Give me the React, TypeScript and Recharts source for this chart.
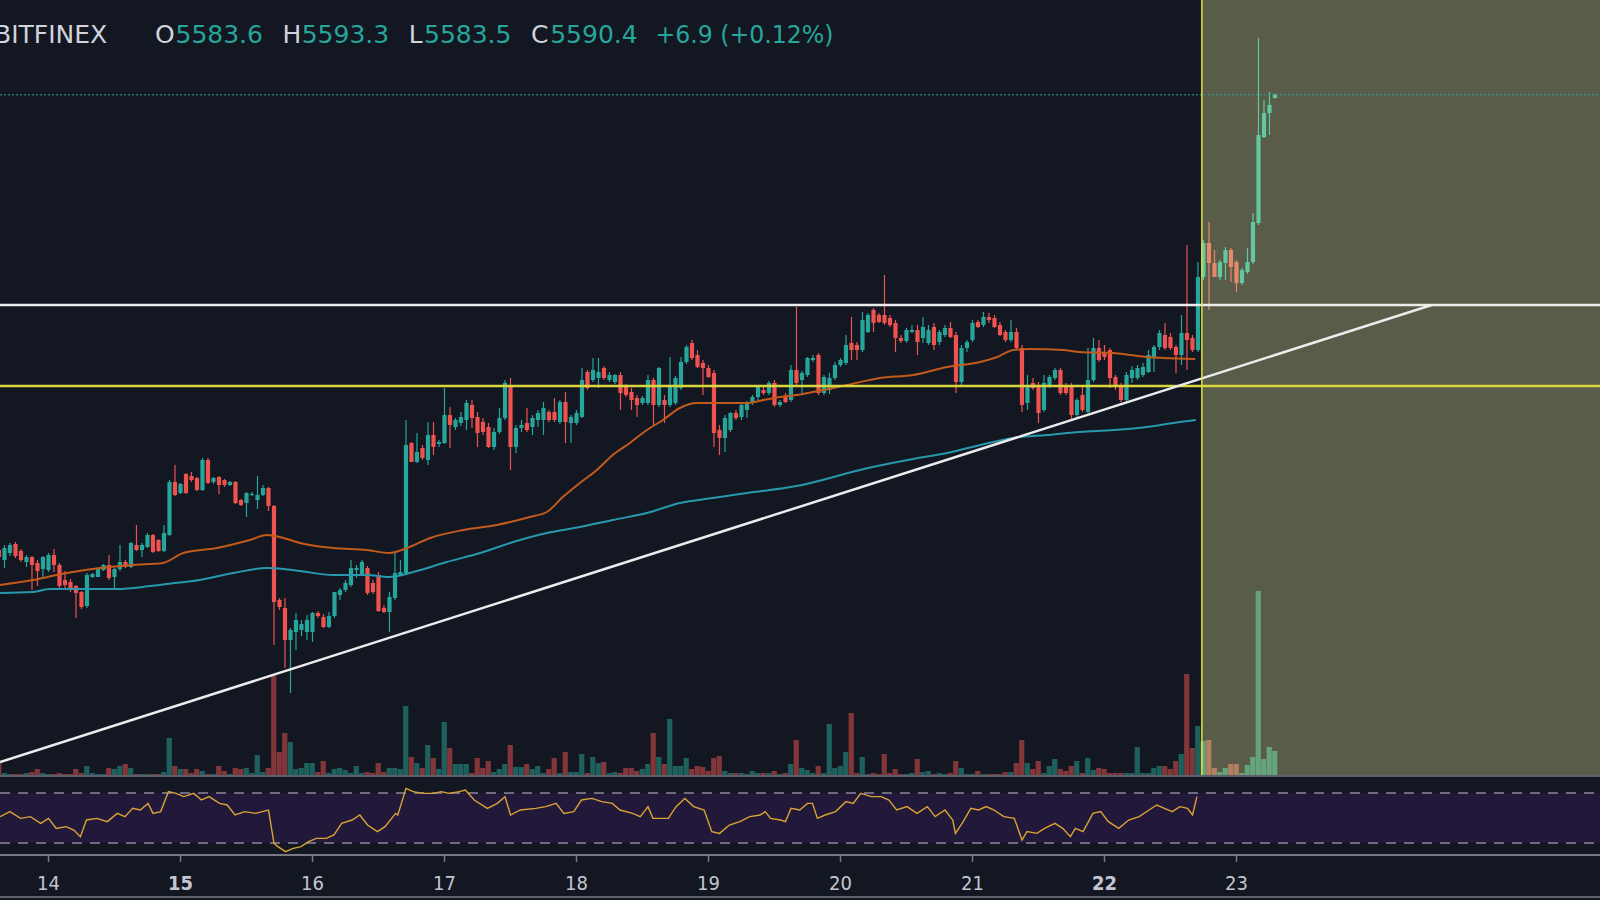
import React from 'react'
import {
  ComposedChart,
  Bar,
  Line,
  XAxis,
  YAxis,
  ReferenceLine,
  ReferenceArea,
} from 'recharts'

// hourly candles, hour 0 = the 14th at 00:00
const FIRST_HOUR = -9

const OPENS = [
  4680, 4660, 4674, 4692, 4678, 4656, 4666, 4654, 4642, 4640, 4670, 4650,
  4620, 4616, 4608, 4596, 4568, 4626, 4626, 4640, 4650, 4626, 4642, 4656,
  4646, 4690, 4680, 4686, 4710, 4700, 4678, 4710, 4816, 4794, 4832, 4828,
  4824, 4800, 4860, 4816, 4826, 4820, 4810, 4816, 4780, 4774, 4790, 4780,
  4790, 4804, 4768, 4580, 4564, 4500, 4516, 4520, 4516, 4516, 4554, 4546,
  4526, 4548, 4590, 4600, 4610, 4640, 4630, 4644, 4614, 4630, 4564, 4556,
  4584, 4630, 4634, 4894, 4856, 4884, 4860, 4910, 4892, 4894, 4950, 4926,
  4934, 4940, 4970, 4946, 4936, 4926, 4886, 4916, 4944, 5010, 4886, 4924,
  4934, 4926, 4940, 4940, 4956, 4956, 4936, 4976, 4934, 4934, 4946, 5036,
  5020, 5024, 5044, 5020, 5016, 5030, 5006, 4996, 4984, 4974, 4974, 5020,
  4970, 4980, 4970, 4974, 5004, 5056, 5094, 5070, 5054, 5044, 5034, 4920,
  4904, 4920, 4954, 4946, 4960, 4974, 4986, 5000, 4994, 5014, 4970, 4986,
  4980, 5040, 5020, 5030, 5060, 5070, 4994, 5000, 5024, 5050, 5054, 5094,
  5090, 5080, 5116, 5160, 5150, 5150, 5144, 5134, 5104, 5098, 5116, 5120,
  5104, 5094, 5126, 5096, 5110, 5124, 5110, 5016, 5084, 5100, 5136, 5130,
  5146, 5144, 5130, 5116, 5100, 5116, 5084, 4974, 5014, 5010, 4960, 5010,
  5024, 5040, 5010, 5008, 4950, 4990, 4956, 5020, 5084, 5076, 5080, 5026,
  5006, 4980, 5024, 5024, 5030, 5036, 5066, 5086, 5110, 5106, 5086, 5070,
  5114, 5104, 5080, 5226, 5294, 5254, 5226, 5254, 5280, 5256, 5214, 5236,
  5256, 5334, 5506, 5554, 5583.6,
]

const HIGHS = [
  4684, 4690, 4694, 4696, 4682, 4670, 4668, 4660, 4668, 4674, 4682, 4654,
  4638, 4622, 4610, 4598, 4634, 4634, 4644, 4652, 4670, 4644, 4690, 4660,
  4696, 4730, 4694, 4714, 4712, 4702, 4730, 4820, 4850, 4814, 4834, 4836,
  4826, 4864, 4864, 4826, 4828, 4822, 4818, 4818, 4782, 4796, 4796, 4828,
  4810, 4806, 4770, 4584, 4584, 4524, 4554, 4540, 4550, 4556, 4558, 4552,
  4556, 4596, 4604, 4620, 4660, 4650, 4660, 4648, 4620, 4636, 4570, 4596,
  4676, 4660, 4940, 4896, 4914, 4890, 4936, 4936, 4900, 5004, 4966, 4944,
  4956, 4980, 4980, 4956, 4944, 4934, 4924, 4964, 5020, 5024, 4930, 4940,
  4964, 4950, 4960, 4976, 4960, 4984, 4980, 4996, 4950, 4960, 5044, 5040,
  5064, 5064, 5048, 5036, 5032, 5036, 5012, 5004, 4990, 4988, 5030, 5024,
  5046, 4990, 5066, 5028, 5066, 5090, 5100, 5080, 5060, 5050, 5040, 4930,
  4950, 4956, 4960, 4974, 4978, 4990, 5010, 5010, 5018, 5020, 4980, 4994,
  5050, 5166, 5038, 5066, 5070, 5074, 5030, 5034, 5056, 5064, 5110, 5146,
  5096, 5156, 5154, 5164, 5154, 5230, 5150, 5140, 5110, 5124, 5130, 5130,
  5146, 5130, 5134, 5120, 5130, 5136, 5116, 5090, 5100, 5140, 5140, 5156,
  5154, 5150, 5136, 5120, 5140, 5124, 5090, 5030, 5024, 5016, 5030, 5030,
  5044, 5044, 5014, 5014, 4984, 5006, 5084, 5104, 5100, 5090, 5084, 5030,
  5014, 5036, 5048, 5050, 5054, 5080, 5090, 5120, 5134, 5114, 5090, 5150,
  5290, 5110, 5256, 5300, 5336, 5280, 5260, 5286, 5284, 5260, 5244, 5284,
  5354, 5704, 5580, 5596, 5593.3,
]

const LOWS = [
  4660, 4644, 4668, 4664, 4656, 4646, 4600, 4608, 4626, 4636, 4636, 4604,
  4604, 4596, 4544, 4562, 4564, 4624, 4626, 4638, 4620, 4604, 4638, 4644,
  4644, 4678, 4666, 4684, 4674, 4676, 4676, 4708, 4788, 4792, 4792, 4816,
  4798, 4798, 4812, 4812, 4792, 4806, 4808, 4772, 4768, 4746, 4788, 4762,
  4788, 4758, 4490, 4560, 4444, 4394, 4480, 4508, 4500, 4496, 4544, 4524,
  4524, 4544, 4580, 4596, 4606, 4624, 4628, 4590, 4592, 4556, 4554, 4516,
  4580, 4628, 4630, 4856, 4854, 4860, 4850, 4870, 4886, 4892, 4884, 4920,
  4928, 4920, 4924, 4886, 4910, 4884, 4880, 4912, 4940, 4840, 4874, 4916,
  4916, 4910, 4926, 4910, 4936, 4936, 4932, 4894, 4894, 4930, 4944, 5000,
  5016, 5004, 5020, 5016, 5012, 4960, 4986, 4960, 4946, 4970, 4970, 4930,
  4966, 4934, 4966, 4970, 5000, 5052, 5060, 5044, 4990, 5024, 4886, 4870,
  4876, 4916, 4940, 4940, 4944, 4970, 4980, 4990, 4990, 4966, 4966, 4974,
  4976, 5010, 4994, 5026, 5056, 4990, 4990, 4992, 5020, 5046, 5050, 5060,
  5060, 5076, 5114, 5116, 5134, 5130, 5126, 5076, 5094, 5094, 5114, 5070,
  5094, 5090, 5080, 5090, 5106, 5104, 4994, 5010, 5076, 5096, 5124, 5126,
  5134, 5124, 5108, 5096, 5096, 5080, 4956, 4960, 5000, 4934, 4956, 5004,
  5020, 4990, 4990, 4940, 4946, 4956, 4954, 5016, 5056, 5060, 5004, 5000,
  4976, 4976, 5014, 5020, 5026, 5034, 5036, 5080, 5080, 5080, 5034, 5050,
  5040, 5076, 5076, 5220, 5160, 5226, 5220, 5220, 5216, 5196, 5210, 5232,
  5252, 5330, 5504, 5510, 5583.5,
]

const CLOSES = [
  4666, 4684, 4690, 4668, 4660, 4666, 4650, 4638, 4666, 4670, 4650, 4608,
  4610, 4604, 4594, 4566, 4630, 4632, 4644, 4650, 4624, 4642, 4656, 4646,
  4694, 4680, 4690, 4710, 4676, 4678, 4714, 4816, 4790, 4812, 4794, 4820,
  4800, 4860, 4814, 4824, 4810, 4810, 4816, 4774, 4770, 4794, 4792, 4790,
  4804, 4768, 4576, 4566, 4500, 4520, 4540, 4532, 4540, 4554, 4548, 4526,
  4548, 4596, 4600, 4614, 4644, 4644, 4656, 4594, 4596, 4558, 4556, 4586,
  4634, 4636, 4890, 4856, 4876, 4864, 4910, 4886, 4896, 4950, 4930, 4940,
  4946, 4974, 4944, 4914, 4916, 4886, 4916, 4944, 5014, 4886, 4924, 4930,
  4920, 4944, 4954, 4964, 4940, 4940, 4976, 4936, 4946, 4954, 5020, 5004,
  5040, 5036, 5024, 5030, 5030, 4994, 4990, 4980, 4970, 4984, 5020, 4970,
  5044, 4970, 5010, 5024, 5056, 5086, 5064, 5046, 5044, 5026, 4914, 4904,
  4944, 4954, 4944, 4970, 4974, 4986, 5006, 4994, 5014, 4970, 4976, 4976,
  5040, 5014, 5034, 5064, 5064, 4994, 5026, 5024, 5050, 5060, 5090, 5080,
  5080, 5140, 5150, 5134, 5136, 5134, 5130, 5104, 5098, 5120, 5120, 5096,
  5126, 5120, 5090, 5116, 5124, 5106, 5016, 5084, 5096, 5134, 5126, 5146,
  5140, 5126, 5110, 5100, 5116, 5084, 4970, 5010, 5004, 4954, 5014, 5026,
  5040, 4994, 4994, 4950, 4980, 4960, 5020, 5084, 5060, 5066, 5024, 5006,
  4980, 5030, 5040, 5044, 5046, 5070, 5086, 5114, 5084, 5084, 5070, 5114,
  5100, 5080, 5226, 5294, 5254, 5226, 5256, 5280, 5246, 5214, 5240, 5256,
  5336, 5510, 5554, 5570, 5590.4,
]

const VOLUMES = [
  13, 2, 1, 1, 1, 2, 3, 6, 2, 1, 1, 2,
  1, 1, 6, 2, 9, 2, 1, 1, 7, 6, 9, 11,
  7, 1, 1, 1, 1, 1, 3, 37, 9, 6, 6, 2,
  6, 4, 1, 1, 9, 4, 1, 7, 6, 7, 2, 20,
  3, 7, 99, 23, 42, 33, 6, 7, 12, 12, 3, 14,
  2, 6, 7, 5, 2, 9, 2, 3, 2, 12, 3, 7,
  7, 6, 69, 18, 12, 7, 30, 17, 6, 53, 27, 11,
  11, 11, 2, 17, 7, 14, 3, 6, 11, 30, 8, 8,
  11, 6, 9, 2, 6, 17, 2, 23, 3, 3, 21, 2,
  18, 12, 13, 2, 3, 2, 7, 7, 4, 6, 11, 42,
  18, 11, 56, 9, 9, 17, 6, 9, 8, 4, 17, 19,
  4, 2, 2, 2, 1, 4, 2, 2, 2, 4, 1, 2,
  11, 35, 7, 5, 2, 9, 2, 51, 7, 9, 23, 62,
  2, 18, 1, 2, 1, 21, 2, 6, 1, 1, 2, 16,
  3, 4, 1, 2, 1, 2, 14, 7, 1, 1, 4, 1,
  1, 1, 1, 3, 3, 12, 35, 12, 6, 14, 2, 9,
  16, 6, 4, 9, 14, 2, 17, 5, 7, 6, 2, 2,
  2, 2, 2, 28, 2, 2, 7, 9, 9, 6, 14, 21,
  101, 27, 49, 34, 35, 7, 3, 7, 11, 11, 2, 10,
  18, 184, 16, 28, 24,
]

const ORANGE_MA_HOURS = [
  -8.8, -2.8, 3.3, 9.4, 15.4, 20.8, 24.5, 30.6, 36.6, 39.7, 42.7, 45.7, 51.7,
  57.9, 62, 65.2, 69.4, 75.4, 81.5, 87.5, 90.6, 93.5, 96.6, 99.7, 102.6, 105.7,
  108.8, 111.7, 114.8, 117.9, 120.8, 127, 130, 133, 136, 139, 145.2, 151.2,
  157.2, 163.4, 169.4, 172.5, 175.4, 178.5, 184.5, 187.5, 193.6, 196.7, 199.7,
  202.7, 208.5,
]
const ORANGE_MA = [
  4610, 4620, 4634, 4644, 4650, 4654, 4674, 4684, 4700, 4710, 4704, 4694, 4684,
  4680, 4674, 4684, 4704, 4720, 4730, 4746, 4756, 4786, 4814, 4840, 4870, 4894,
  4920, 4940, 4964, 4974, 4974, 4974, 4980, 4986, 4990, 4996, 5010, 5024,
  5030, 5046, 5056, 5066, 5080, 5082, 5080, 5076, 5074, 5070, 5066,
  5064, 5062,
]

const TEAL_MA_HOURS = [
  -8.8, -2.8, 0.3, 9.4, 12.4, 18.5, 21.5, 27.5, 33.6, 39.7, 42.7, 45.7, 51.7,
  57.9, 62, 66.3, 72.4, 78.5, 84.5, 90.6, 96.6, 102.6, 108.8, 114.8, 120.8, 127,
  136, 149, 157.2, 163.4, 169.4, 175.4, 181.5, 187.5, 193.6, 199.7, 205.7, 208.6,
]
const TEAL_MA = [
  4594, 4596, 4602, 4602, 4602, 4608, 4612, 4620, 4634, 4644, 4642, 4638, 4630,
  4630, 4626, 4636, 4656, 4674, 4696, 4714, 4726, 4740, 4754, 4774, 4784, 4794,
  4808, 4844, 4862, 4874, 4890, 4904, 4910, 4916, 4920, 4926, 4936, 4940,
]

const RSI_HOURS = [
  -8.8, -7, -5.1, -3.3, -1.4, 0, 1.4, 3.2, 4.6, 5.8,
  6.9, 8.8, 10.7, 12.5, 13.9, 15.3, 16.7, 18.1, 19, 20.4,
  21.8, 23.2, 24.6, 26.4, 27.8, 29.2, 31.1, 32.5, 33.9, 35.7,
  37.6, 40, 41, 41.7, 43.1, 44.5, 45.9, 47.3, 48.7, 50.5,
  51.9, 53.3, 55.2, 56.6, 58, 59.8, 61.2, 63.1, 63.5, 65,
  66.3, 68.2, 70, 71.4, 72.8, 74.7, 75.8, 77.4, 79.8, 81.6,
  83, 84, 85.8, 88.6, 90.4, 92.3, 93.7, 95.5, 96.9, 98.8,
  100.6, 102.5, 103.9, 106.2, 107.6, 109, 109.9, 111.8, 112.7, 114.1,
  115.7, 117.3, 119.2, 120.6, 122, 123.8, 125.7, 127.5, 129.4, 130.3,
  131.3, 133.1, 134, 135, 136.6, 138, 138.9, 139.8, 141.2, 143.1,
  145, 146.3, 147.7, 149.6, 151.4, 152.8, 154.2, 156.1, 157.9, 159.8,
  161.2, 163, 164.4, 164.9, 166.3, 167.7, 169.1, 170.5, 171.9, 173.7,
  175.6, 177, 177.9, 179.7, 181.1, 183, 184.4, 185.8, 186.7, 188.1,
  189.9, 191.3, 192.7, 194.6, 196.4, 198.3, 200.1, 201.5, 202.9, 204.3,
  205.7, 207.1, 208, 208.8,
]
const RSI = [
  51.1, 55.1, 49.7, 51.1, 45.7, 49.7, 41.7, 43.1, 40.4, 35.1,
  48.4, 49.7, 47.1, 53.7, 51.1, 57.7, 56.4, 61.7, 53.7, 55.1,
  71.1, 69.7, 67.1, 69.7, 64.4, 67.1, 61.7, 60.4, 52.4, 55.1,
  53.7, 56.4, 29.7, 27.1, 23.1, 25.7, 27.1, 31.1, 33.7, 33.7,
  36.4, 45.7, 48.4, 52.4, 44.4, 39.1, 43.1, 53.7, 52.4, 73.7,
  71.1, 69.7, 69.7, 71.1, 69.7, 71.1, 72.4, 64.4, 57.7, 61.7,
  67.1, 52.4, 56.4, 57.7, 59.1, 61.7, 53.7, 55.1, 64.4, 65.7,
  63.1, 61.7, 56.4, 53.7, 51.1, 59.1, 49.7, 49.7, 49.7, 59.1,
  65.7, 59.1, 56.4, 39.1, 37.7, 44.4, 47.1, 51.1, 52.4, 55.1,
  49.7, 48.4, 47.1, 57.7, 56.4, 61.7, 61.7, 49.7, 52.4, 55.1,
  63.1, 61.7, 69.7, 67.1, 67.1, 64.4, 56.4, 59.1, 53.7, 59.1,
  51.1, 56.4, 48.4, 37.7, 47.1, 57.7, 56.4, 59.1, 56.4, 51.1,
  49.7, 32.4, 39.1, 37.7, 41.7, 45.7, 41.7, 35.1, 41.7, 39.1,
  53.7, 55.1, 47.1, 41.7, 48.4, 51.1, 56.4, 60.4, 57.7, 55.1,
  59.1, 57.7, 52.4, 67.1,
]

const DAY_TICKS = [0, 24, 48, 72, 96, 120, 144, 168, 192, 216]
const DAY_LABELS = ['14', '15', '16', '17', '18', '19', '20', '21', '22', '23']
const BOLD_DAYS = ['15', '22']

const RESISTANCE = 5170
const SUPPORT = 5008
const LAST_PRICE = 5590.4
const TREND_START = { x: -8.8, y: 4256 }
const TREND_END = { x: 251.5, y: 5170 }
const MARKER_HOUR = 209.7

const HEADER = {
  exchange: 'BITFINEX',
  open: '5583.6',
  high: '5593.3',
  low: '5583.5',
  close: '5590.4',
  change: '+6.9 (+0.12%)',
}

// view
const X_DOMAIN: [number, number] = [-8.82, 282.09]
const PRICE_DOMAIN: [number, number] = [4230, 5780]
const BG = '#131722'
const UP = '#26a69a'
const DOWN = '#ef5350'
const UP_SHADED = '#63c79f'
const DOWN_SHADED = '#e8886b'
const VOL_UP = '#1e605e'
const VOL_DOWN = '#823639'
const VOL_UP_SHADED = '#66a47e'
const VOL_DOWN_SHADED = '#b4805f'
const SHADE_FROM = 210
const FONT = "'DejaVu Sans', sans-serif"
const FONT_NARROW = "'DejaVu Sans Condensed', 'DejaVu Sans', sans-serif"

const candles = OPENS.map((open, i) => ({
  h: FIRST_HOUR + i,
  open,
  high: HIGHS[i],
  low: LOWS[i],
  close: CLOSES[i],
  range: [LOWS[i], HIGHS[i]],
  vol: VOLUMES[i],
}))

const orangeRows = ORANGE_MA_HOURS.map((h, i) => ({ h, v: ORANGE_MA[i] }))
const tealRows = TEAL_MA_HOURS.map((h, i) => ({ h, v: TEAL_MA[i] }))
const rsiRows = RSI_HOURS.map((h, i) => ({ h, rsi: RSI[i] }))

function Candle(props: any) {
  const { x, y, width, height, payload } = props
  if (!payload || height == null) return null
  const { open, close, high, low, h } = payload
  const up = close >= open
  const shaded = h >= SHADE_FROM
  const color = up ? (shaded ? UP_SHADED : UP) : shaded ? DOWN_SHADED : DOWN
  const cx = x + width / 2
  const span = high - low || 1
  const py = (v: number) => y + ((high - v) / span) * height
  const top = py(Math.max(open, close))
  const bottom = py(Math.min(open, close))
  return (
    <g>
      <line x1={cx} x2={cx} y1={y} y2={y + height} stroke={color} strokeWidth={1.2} />
      <rect x={cx - 2.1} y={top} width={4.2} height={Math.max(1, bottom - top)} fill={color} />
    </g>
  )
}

function VolumeBar(props: any) {
  const { x, y, width, height, payload } = props
  if (!payload || !height) return null
  const up = payload.close >= payload.open
  const shaded = payload.h >= SHADE_FROM
  const color = up ? (shaded ? VOL_UP_SHADED : VOL_UP) : shaded ? VOL_DOWN_SHADED : VOL_DOWN
  const cx = x + width / 2
  return <rect x={cx - 2.6} y={y} width={5.2} height={height} fill={color} />
}

function DayTick(props: any) {
  const { x, y, payload } = props
  const label = DAY_LABELS[DAY_TICKS.indexOf(payload.value)]
  return (
    <text
      x={x}
      y={y}
      dy={26}
      textAnchor="middle"
      fill="#c3c6ce"
      fontSize={20}
      fontFamily={FONT_NARROW}
      fontWeight={BOLD_DAYS.includes(label) ? 700 : 400}
    >
      {label}
    </text>
  )
}

export default function App() {
  return (
    <div
      style={{
        position: 'absolute',
        left: 0,
        top: 0,
        width: 1600,
        height: 900,
        background: BG,
        overflow: 'hidden',
      }}
    >
      {/* highlighted zone after the breakout */}
      <div
        style={{
          position: 'absolute',
          left: 1202,
          top: 0,
          width: 398,
          height: 775,
          background: '#585c48',
        }}
      />

      <div style={{ position: 'absolute', left: 0, top: 0 }}>
        <ComposedChart
          width={1600}
          height={775}
          data={candles}
          margin={{ top: 0, right: 0, bottom: 0, left: 0 }}
        >
          <XAxis xAxisId="p" type="number" dataKey="h" domain={X_DOMAIN} allowDataOverflow hide />
          <XAxis xAxisId="v" type="number" dataKey="h" domain={X_DOMAIN} allowDataOverflow hide />
          <YAxis yAxisId="p" domain={PRICE_DOMAIN} allowDataOverflow hide />
          <YAxis yAxisId="v" domain={[0, 775]} allowDataOverflow hide />

          <Bar
            xAxisId="v"
            yAxisId="v"
            dataKey="vol"
            barSize={5.5}
            isAnimationActive={false}
            shape={(p: any) => <VolumeBar {...p} />}
          />
          <Line
            xAxisId="p"
            yAxisId="p"
            data={orangeRows}
            dataKey="v"
            type="monotone"
            stroke="#c25a1c"
            strokeWidth={2}
            dot={false}
            activeDot={false}
            isAnimationActive={false}
          />
          <Line
            xAxisId="p"
            yAxisId="p"
            data={tealRows}
            dataKey="v"
            type="monotone"
            stroke="#2898ac"
            strokeWidth={2}
            dot={false}
            activeDot={false}
            isAnimationActive={false}
          />
          <Bar
            xAxisId="p"
            yAxisId="p"
            dataKey="range"
            barSize={5.5}
            isAnimationActive={false}
            shape={(p: any) => <Candle {...p} />}
          />

          <ReferenceLine xAxisId="p" yAxisId="p" y={LAST_PRICE} stroke={UP} strokeDasharray="2 2" strokeWidth={1} ifOverflow="hidden" />
          <ReferenceLine xAxisId="p" yAxisId="p" y={SUPPORT} stroke="#d8d63c" strokeWidth={2.5} ifOverflow="hidden" />
          <ReferenceLine xAxisId="p" yAxisId="p" y={RESISTANCE} stroke="#ececec" strokeWidth={2.5} ifOverflow="hidden" />
          <ReferenceLine
            xAxisId="p"
            yAxisId="p"
            segment={[TREND_START, TREND_END]}
            stroke="#ececec"
            strokeWidth={2.5}
            ifOverflow="hidden"
          />
          <ReferenceLine xAxisId="p" yAxisId="p" x={MARKER_HOUR} stroke="#e2e33a" strokeWidth={1.5} ifOverflow="hidden" />
        </ComposedChart>
      </div>

      {/* pane separator */}
      <div style={{ position: 'absolute', left: 0, top: 775, width: 1600, height: 2, background: '#5d606b' }} />

      <div style={{ position: 'absolute', left: 0, top: 777 }}>
        <ComposedChart
          width={1600}
          height={123}
          data={rsiRows}
          margin={{ top: 0, right: 0, bottom: 0, left: 0 }}
        >
          <XAxis
            type="number"
            dataKey="h"
            domain={X_DOMAIN}
            allowDataOverflow
            ticks={DAY_TICKS}
            interval={0}
            height={45}
            tickSize={7}
            axisLine={{ stroke: '#787b86', strokeWidth: 2 }}
            tickLine={{ stroke: '#787b86', strokeWidth: 1.5 }}
            tick={(p: any) => <DayTick {...p} />}
          />
          <YAxis domain={[20.4, 82.8]} allowDataOverflow hide />
          <ReferenceArea y1={30} y2={70} fill="#21183a" fillOpacity={1} stroke="none" ifOverflow="hidden" />
          <ReferenceLine y={70} stroke="#8a8799" strokeDasharray="10 8" strokeWidth={1.5} />
          <ReferenceLine y={30} stroke="#8a8799" strokeDasharray="10 8" strokeWidth={1.5} />
          <Line
            dataKey="rsi"
            type="linear"
            stroke="#dba236"
            strokeWidth={1.4}
            dot={false}
            activeDot={false}
            isAnimationActive={false}
          />
        </ComposedChart>
      </div>

      <div style={{ position: 'absolute', left: 0, top: 896, width: 1600, height: 2, background: '#5d606b' }} />

      {/* legend line */}
      <svg
        width={1600}
        height={60}
        style={{ position: 'absolute', left: 0, top: 0, pointerEvents: 'none' }}
      >
        <g fontFamily={FONT} fontSize={25}>
          <text x={-6} y={43} fill="#d1d4dc">{HEADER.exchange}</text>
          <text x={155} y={43} fill="#d1d4dc">O</text>
          <text x={175.5} y={43} fill={UP}>{HEADER.open}</text>
          <text x={282.5} y={43} fill="#d1d4dc">H</text>
          <text x={301.7} y={43} fill={UP}>{HEADER.high}</text>
          <text x={408.7} y={43} fill="#d1d4dc">L</text>
          <text x={424} y={43} fill={UP}>{HEADER.low}</text>
          <text x={531} y={43} fill="#d1d4dc">C</text>
          <text x={550.2} y={43} fill={UP}>{HEADER.close}</text>
          <text x={655.5} y={43} fill={UP} textLength={178} lengthAdjust="spacingAndGlyphs">
            {HEADER.change}
          </text>
        </g>
      </svg>
    </div>
  )
}
